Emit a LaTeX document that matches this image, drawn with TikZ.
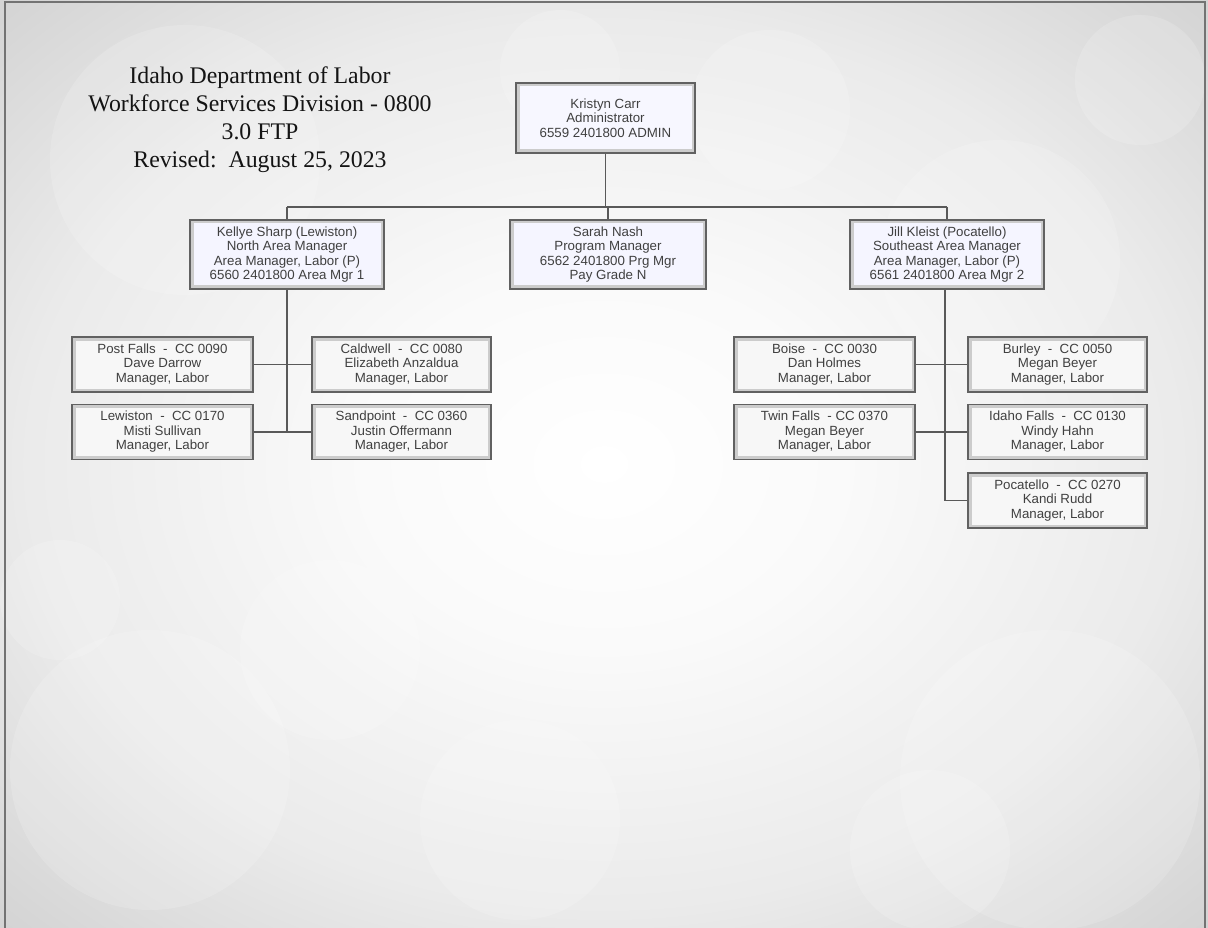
\documentclass[tikz,border=0pt]{standalone}
\usepackage{fontspec}
\setmainfont{Liberation Serif}
\newfontfamily\boxfont{Liberation Sans}
\pgfdeclareradialshading{bgshade}{\pgfpoint{0bp}{0bp}}{color(0bp)=(white); color(10bp)=(white!98!black); color(24bp)=(black!8); color(34bp)=(black!16); color(44bp)=(black!23); color(56bp)=(black!27)}
\begin{document}
\begin{tikzpicture}[x=1pt,y=-1pt,
  orgbox/.style={draw=black!62, line width=1.5pt, fill=#1, inner sep=0pt, align=center,
    font=\boxfont\fontsize{13.3}{14.5}\selectfont, text=black!75,
    path picture={\draw[black!20,line width=7pt] (path picture bounding box.south west) rectangle (path picture bounding box.north east);}},
  orgbox/.default={white!97!black},
  topbox/.style={orgbox=#1, minimum height=69pt},
  topbox/.default={blue!4!white},
  subbox/.style={orgbox, minimum height=55pt},
  conn/.style={draw=black!65, line width=1.6pt},
  bokeh/.style={fill=white, opacity=0.16}]
\useasboundingbox (0,0) rectangle (1208,928);
% background
\shade[shading=bgshade] (0,0) rectangle (1208,928);
\fill[bokeh] (185,160) circle (135);
\fill[bokeh] (770,110) circle (80);
\fill[bokeh] (1140,80) circle (65);
\fill[bokeh] (560,70) circle (60);
\fill[bokeh] (1000,260) circle (120);
\fill[bokeh] (150,770) circle (140);
\fill[bokeh] (60,600) circle (60);
\fill[bokeh] (330,650) circle (90);
\fill[bokeh] (520,820) circle (100);
\fill[bokeh] (1050,780) circle (150);
\fill[bokeh] (930,850) circle (80);
\draw[black!55, line width=1.2pt] (5,928) -- (5,2) -- (1205,2) -- (1205,928);
% title
\node[font=\fontsize{23.8}{28}\selectfont, align=center, text=black!92] (title) at (260,120)
  {Idaho Department of Labor\\Workforce Services Division - 0800\\3.0 FTP\\Revised:\ \ August 25, 2023};
% top levels
\node[topbox=white!97!blue, minimum width=179pt, minimum height=70pt] (kc) at (605.5,118)
  {Kristyn Carr\\Administrator\\6559 2401800 ADMIN};
\node[topbox, minimum width=194pt] (ks) at (287,254.5)
  {Kellye Sharp (Lewiston)\\North Area Manager\\Area Manager, Labor (P)\\6560 2401800 Area Mgr 1};
\node[topbox, minimum width=196pt] (sn) at (608,254.5)
  {Sarah Nash\\Program Manager\\6562 2401800 Prg Mgr\\Pay Grade N};
\node[topbox, minimum width=194pt] (jk) at (947,254.5)
  {Jill Kleist (Pocatello)\\Southeast Area Manager\\Area Manager, Labor (P)\\6561 2401800 Area Mgr 2};
% north offices
\node[subbox, minimum width=181pt] (pf) at (162.5,364.5) {Post Falls \ - \ CC 0090\\Dave Darrow\\Manager, Labor};
\node[subbox, minimum width=179pt] (cw) at (401.5,364.5) {Caldwell \ - \ CC 0080\\Elizabeth Anzaldua\\Manager, Labor};
\node[subbox, minimum width=181pt] (lw) at (162.5,432) {Lewiston \ - \ CC 0170\\Misti Sullivan\\Manager, Labor};
\node[subbox, minimum width=179pt] (sp) at (401.5,432) {Sandpoint \ - \ CC 0360\\Justin Offermann\\Manager, Labor};
% southeast offices
\node[subbox, minimum width=181pt] (bo) at (824.5,364.5) {Boise \ - \ CC 0030\\Dan Holmes\\Manager, Labor};
\node[subbox, minimum width=179pt] (bu) at (1057.5,364.5) {Burley \ - \ CC 0050\\Megan Beyer\\Manager, Labor};
\node[subbox, minimum width=181pt] (tf) at (824.5,432) {Twin Falls \ - CC 0370\\Megan Beyer\\Manager, Labor};
\node[subbox, minimum width=179pt] (if) at (1057.5,432) {Idaho Falls \ - \ CC 0130\\Windy Hahn\\Manager, Labor};
\node[subbox, minimum width=179pt] (pc) at (1057.5,500.5) {Pocatello \ - \ CC 0270\\Kandi Rudd\\Manager, Labor};
% connectors
\coordinate (bus) at (606,207);
\draw[conn] (kc.south) -- (kc.south |- bus);
\draw[conn] (ks.north |- bus) -- (jk.north |- bus);
\draw[conn] (ks.north |- bus) -- (ks.north);
\draw[conn] (sn.north |- bus) -- (sn.north);
\draw[conn] (jk.north |- bus) -- (jk.north);
\draw[conn] (ks.south) -- (ks.south |- lw.east);
\draw[conn] (pf.east) -- (cw.west);
\draw[conn] (lw.east) -- (sp.west);
\coordinate (jv) at ([xshift=-2pt]jk.south);
\draw[conn] (jv) -- (jv |- pc.west) -- (pc.west);
\draw[conn] (bo.east) -- (bu.west);
\draw[conn] (tf.east) -- (if.west);
\end{tikzpicture}
\end{document}
